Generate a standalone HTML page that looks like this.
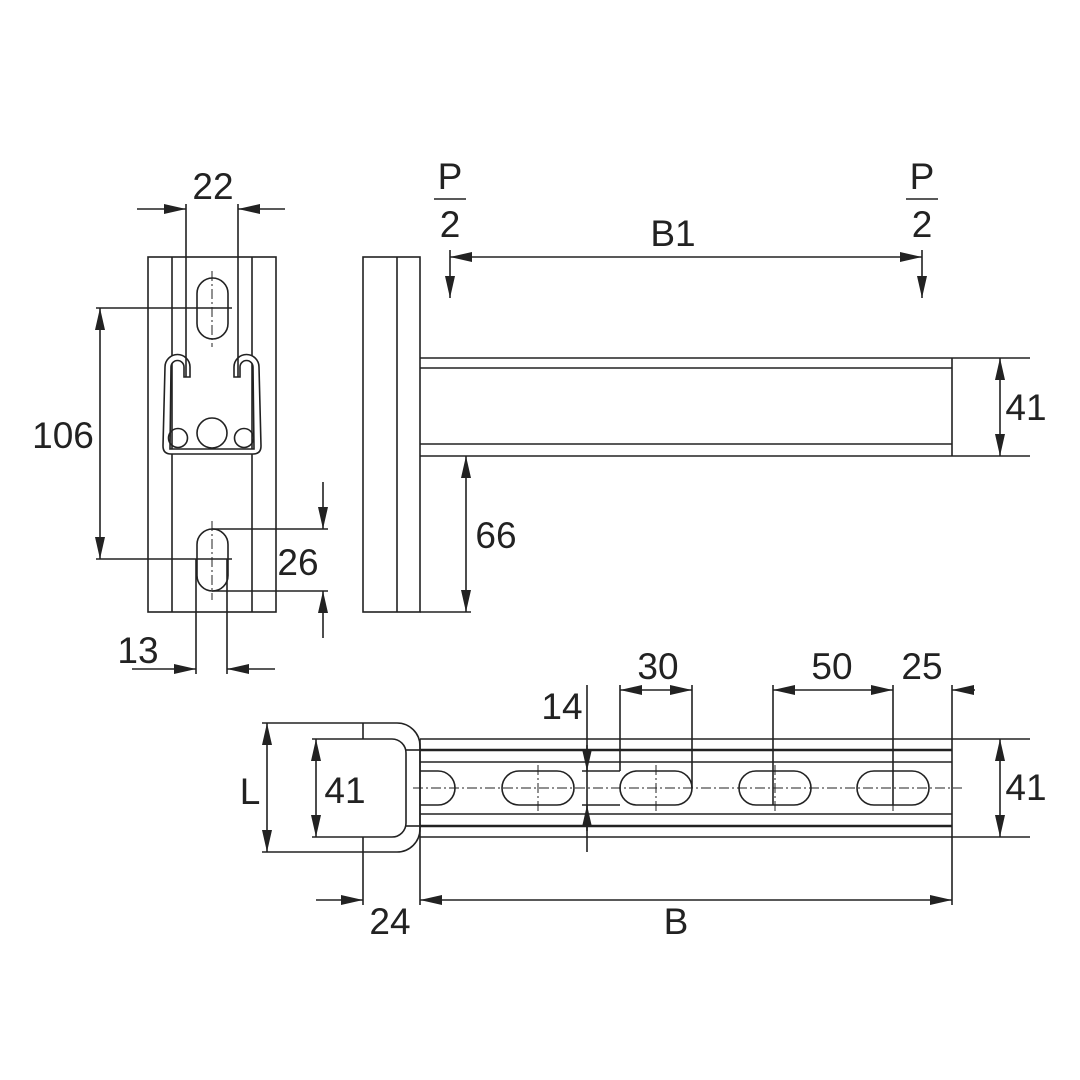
<!DOCTYPE html>
<html><head><meta charset="utf-8"><style>
html,body{margin:0;padding:0;background:#fff}
svg{display:block}
text{font-family:"Liberation Sans",sans-serif;font-size:37px;fill:#222;text-anchor:middle}
</style></head><body>
<svg width="1080" height="1080" viewBox="0 0 1080 1080" xmlns="http://www.w3.org/2000/svg">
<defs>
<marker id="a" viewBox="0 0 22 10" refX="22" refY="5" markerWidth="22" markerHeight="10" markerUnits="userSpaceOnUse" orient="auto-start-reverse"><path d="M0,0 L22,5 L0,10 Z" fill="#222"/></marker>
</defs>
<g stroke="#222" stroke-width="1.6" fill="none">
<!-- LEFT VIEW -->
<rect x="148" y="257" width="128" height="355"/>
<line x1="172" y1="257" x2="172" y2="612"/>
<line x1="252" y1="257" x2="252" y2="612"/>
<rect x="197" y="278" width="31" height="61" rx="15.5" fill="#fff"/>
<rect x="197" y="529" width="31" height="62" rx="15.5" fill="#fff"/>
<g stroke-dasharray="10,3,2,3" stroke-width="1">
<line x1="212" y1="271" x2="212" y2="347"/><line x1="212" y1="521" x2="212" y2="600"/>
</g>
<!-- channel -->
<path d="M190,377 L190,367 A12.5,12.5 0 0 0 165,367 L163,446 Q163,454 171,454 L253,454 Q261,454 261,446 L259,367 A12.5,12.5 0 0 0 234,367 L234,377 L240,377 L240,367 A6.5,6.5 0 0 1 253,367 L254,449 L170,449 L171,367 A6.5,6.5 0 0 1 184,367 L184,377 Z" fill="#fff"/>
<circle cx="212" cy="433" r="15"/><circle cx="178" cy="438" r="9.5"/><circle cx="244" cy="438" r="9.5"/>
<!-- dims -->
<line x1="186" y1="204" x2="186" y2="377"/><line x1="238" y1="204" x2="238" y2="377"/>
<line x1="137" y1="209" x2="186" y2="209" marker-end="url(#a)"/>
<line x1="285" y1="209" x2="238" y2="209" marker-end="url(#a)"/>
<line x1="96" y1="308" x2="232" y2="308"/><line x1="96" y1="559" x2="232" y2="559"/>
<line x1="100" y1="308" x2="100" y2="559" marker-start="url(#a)" marker-end="url(#a)"/>
<line x1="212" y1="529" x2="328" y2="529"/><line x1="212" y1="591" x2="328" y2="591"/>
<line x1="323" y1="482" x2="323" y2="529" marker-end="url(#a)"/>
<line x1="323" y1="638" x2="323" y2="591" marker-end="url(#a)"/>
<line x1="196" y1="559" x2="196" y2="674"/><line x1="227" y1="559" x2="227" y2="674"/>
<line x1="132" y1="669" x2="196" y2="669" marker-end="url(#a)"/>
<line x1="275" y1="669" x2="227" y2="669" marker-end="url(#a)"/>

<!-- SIDE VIEW -->
<rect x="363" y="257" width="57" height="355"/>
<line x1="397" y1="257" x2="397" y2="612"/>
<line x1="420" y1="358" x2="952" y2="358"/><line x1="420" y1="456" x2="952" y2="456"/>
<line x1="420" y1="368" x2="952" y2="368"/><line x1="420" y1="444" x2="952" y2="444"/>
<line x1="952" y1="358" x2="952" y2="456"/>
<line x1="952" y1="358" x2="1030" y2="358"/><line x1="952" y1="456" x2="1030" y2="456"/>
<line x1="1000" y1="358" x2="1000" y2="456" marker-start="url(#a)" marker-end="url(#a)"/>
<line x1="420" y1="612" x2="471" y2="612"/>
<line x1="466" y1="456" x2="466" y2="612" marker-start="url(#a)" marker-end="url(#a)"/>
<line x1="450" y1="257" x2="922" y2="257" marker-start="url(#a)" marker-end="url(#a)"/>
<line x1="450" y1="250" x2="450" y2="298" marker-end="url(#a)"/>
<line x1="922" y1="250" x2="922" y2="298" marker-end="url(#a)"/>
<line x1="434" y1="199" x2="466" y2="199"/><line x1="906" y1="199" x2="938" y2="199"/>

<!-- BOTTOM VIEW -->
<path d="M262,723 L397,723 A23,23 0 0 1 420,746 L420,829 A23,23 0 0 1 397,852 L262,852"/>
<path d="M312,739 L392,739 A14,14 0 0 1 406,753 L406,823 A14,14 0 0 1 392,837 L312,837"/>
<line x1="406" y1="750" x2="420" y2="750"/><line x1="406" y1="826" x2="420" y2="826"/>
<line x1="363" y1="723" x2="363" y2="739"/><line x1="363" y1="837" x2="363" y2="905"/>
<line x1="420" y1="739" x2="952" y2="739"/><line x1="420" y1="837" x2="952" y2="837"/>
<line x1="420" y1="750" x2="952" y2="750" stroke-width="2.6"/><line x1="420" y1="826" x2="952" y2="826" stroke-width="2.6"/>
<line x1="420" y1="762" x2="952" y2="762"/><line x1="420" y1="814" x2="952" y2="814"/>
<line x1="420" y1="739" x2="420" y2="905"/>
<line x1="952" y1="685" x2="952" y2="905"/>
<path d="M420,771 L438,771 A17,17 0 0 1 438,805 L420,805"/>
<rect x="502" y="771" width="72" height="34" rx="17"/>
<rect x="620" y="771" width="72" height="34" rx="17"/>
<rect x="739" y="771" width="72" height="34" rx="17"/>
<rect x="857" y="771" width="72" height="34" rx="17"/>
<g stroke-width="1" stroke-dasharray="10,3,2,3">
<line x1="413" y1="788" x2="962" y2="788"/>
<line x1="538" y1="765" x2="538" y2="811"/><line x1="656" y1="765" x2="656" y2="811"/>
<line x1="775" y1="765" x2="775" y2="811"/><line x1="893" y1="765" x2="893" y2="811"/>
</g>
<line x1="620" y1="685" x2="620" y2="771"/><line x1="692" y1="685" x2="692" y2="788"/>
<line x1="773" y1="685" x2="773" y2="805"/><line x1="893" y1="685" x2="893" y2="805"/>
<line x1="620" y1="690" x2="692" y2="690" marker-start="url(#a)" marker-end="url(#a)"/>
<line x1="773" y1="690" x2="893" y2="690" marker-start="url(#a)" marker-end="url(#a)"/>
<line x1="975" y1="690" x2="952" y2="690" marker-end="url(#a)"/>
<line x1="587" y1="685" x2="587" y2="852"/>
<line x1="587" y1="745" x2="587" y2="771" marker-end="url(#a)"/>
<line x1="587" y1="831" x2="587" y2="805" marker-end="url(#a)"/>
<line x1="582" y1="771" x2="620" y2="771"/><line x1="582" y1="805" x2="620" y2="805"/>
<line x1="952" y1="739" x2="1030" y2="739"/><line x1="952" y1="837" x2="1030" y2="837"/>
<line x1="1000" y1="739" x2="1000" y2="837" marker-start="url(#a)" marker-end="url(#a)"/>
<line x1="267" y1="723" x2="267" y2="852" marker-start="url(#a)" marker-end="url(#a)"/>
<line x1="316" y1="739" x2="316" y2="837" marker-start="url(#a)" marker-end="url(#a)"/>
<line x1="316" y1="900" x2="363" y2="900" marker-end="url(#a)"/>
<line x1="420" y1="900" x2="952" y2="900" marker-start="url(#a)" marker-end="url(#a)"/>
</g>
<g>
<text x="213" y="199">22</text>
<text x="63" y="448">106</text>
<text x="298" y="575">26</text>
<text x="138" y="663">13</text>
<text x="450" y="189">P</text><text x="450" y="237">2</text>
<text x="922" y="189">P</text><text x="922" y="237">2</text>
<text x="673" y="246">B1</text>
<text x="1026" y="420">41</text>
<text x="496" y="548">66</text>
<text x="658" y="679">30</text>
<text x="832" y="679">50</text>
<text x="922" y="679">25</text>
<text x="562" y="719">14</text>
<text x="250" y="804">L</text>
<text x="345" y="803">41</text>
<text x="1026" y="800">41</text>
<text x="390" y="934">24</text>
<text x="676" y="934">B</text>
</g>
</svg>
</body></html>
